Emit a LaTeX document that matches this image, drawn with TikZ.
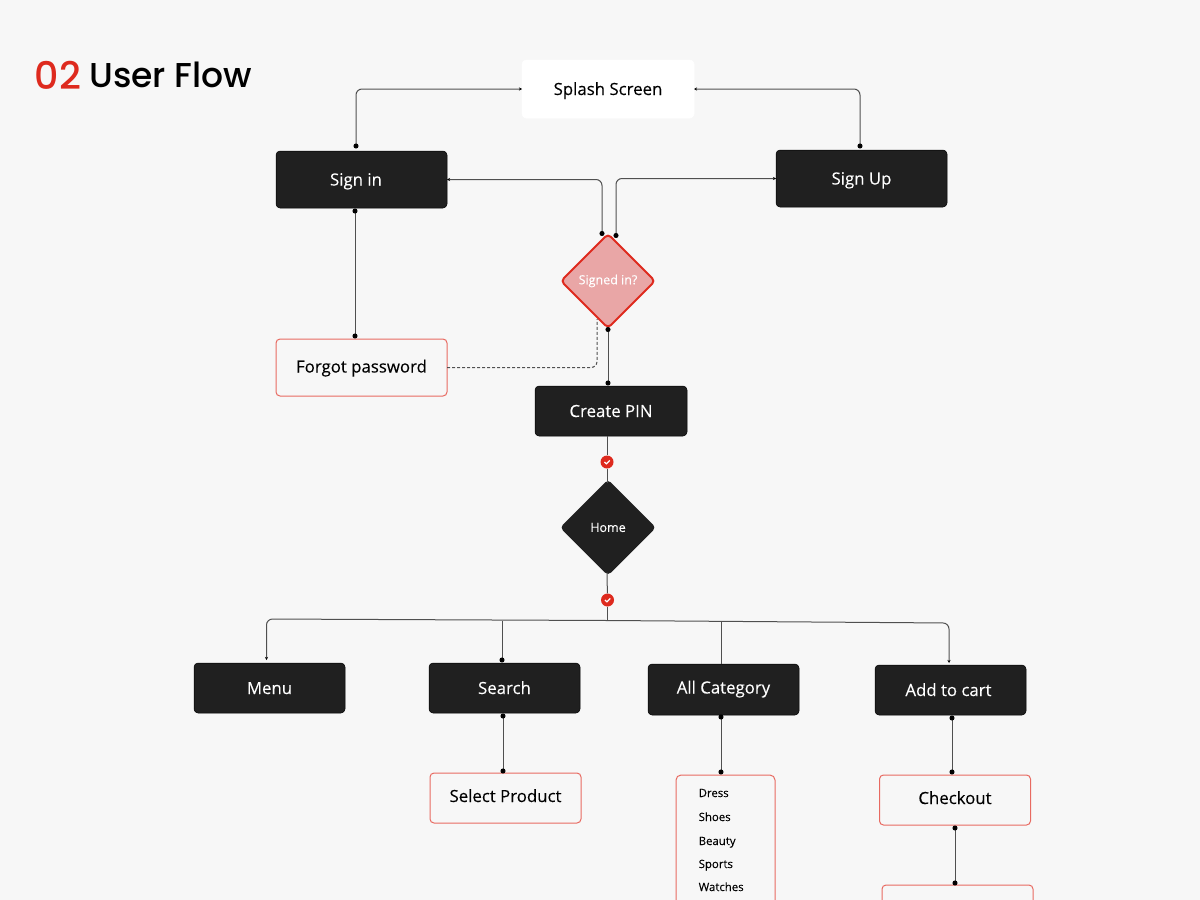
\documentclass[tikz,border=0pt]{standalone}
\usepackage{fontspec}
\setmainfont{Open Sans}[UprightFeatures={FakeBold=0.12}]
\newfontfamily\titlefont[UprightFont=* Medium]{Poppins}
\usetikzlibrary{positioning,shapes.geometric,arrows.meta,calc}
\definecolor{pagegray}{HTML}{F7F7F7}
\definecolor{boxblack}{HTML}{202020}
\definecolor{flowred}{HTML}{DE2A1E}
\definecolor{softred}{HTML}{E9A6A6}
\definecolor{linegray}{HTML}{505050}
\tikzset{
    flow/.style={draw=linegray,line width=1pt,rounded corners=6pt},
    dotted end/.style={{Circle[black,length=5pt]}-{Circle[black,length=5pt]}},
    tipdot/.style={{Stealth[black,length=3pt,width=3pt]}-{Circle[black,length=5pt]}},
    darkbox/.style={rectangle,rounded corners=4pt,fill=boxblack,draw=black,line width=0.5pt,text=white,
        minimum width=151pt,minimum height=50pt,outer sep=0pt,inner sep=0pt,text height=12.5pt,text depth=0.5pt,
        font=\fontsize{16.8}{20}\selectfont},
    redbox/.style={darkbox,fill=pagegray,draw=flowred!70,line width=1pt,text=black},
    raised/.style={text depth=4.5pt},
    decision/.style={diamond,rounded corners=4pt,minimum width=96pt,minimum height=96pt,inner sep=0pt,outer sep=0pt,
        text=white,font=\fontsize{12.5}{15}\selectfont},
    checkdot/.style={circle,fill=flowred,minimum size=13pt,inner sep=0pt,path picture={
        \draw[white,line width=1.2pt] ($(path picture bounding box.center)+(-2.6,0)$) -- ++(2,1.8) -- ++(3.4,-3.4);}},
    listitem/.style={anchor=base west,inner sep=0pt,font=\fontsize{11.4}{14}\selectfont},
}
\begin{document}
\begin{tikzpicture}[x=1pt,y=-1pt]
    \useasboundingbox (0,0) rectangle (1200,900);
    \clip (0,0) rectangle (1200,900);
    \fill[pagegray] (0,0) rectangle (1200,900);

    \node[anchor=base west,inner sep=0pt,text=flowred,font=\titlefont\fontsize{38}{40}\selectfont] (number) at (34.5,89) {02};
    \node[anchor=base west,inner sep=0pt,text=black,font=\titlefont\fontsize{34.5}{40}\selectfont] (heading) at (89,87.5) {User Flow};

    \node[darkbox,fill=white,draw=white,text=black,minimum width=172pt,minimum height=58pt] (splash) at (608,89) {Splash Screen};
    \node[darkbox,minimum width=171pt,minimum height=57pt] (signin) at (361.5,179.5) {Sign in\hspace*{11pt}};
    \node[darkbox,minimum width=171pt,minimum height=57pt] (signup) at (861.5,178.5) {Sign Up};
    \node[decision,draw=flowred,fill=softred,line width=2pt,minimum width=94pt,minimum height=94pt] (signed) at (608,281) {Signed in?};
    \node[redbox,text depth=2.5pt,minimum width=171pt,minimum height=57pt,below=131pt of signin] (forgot) {Forgot password};
    \node[darkbox,minimum width=152pt] (pin) at (611,411) {Create PIN};
    \node[decision,fill=boxblack] (home) at (608,527.5) {Home};
    \node[checkdot] (checka) at (607,462) {};
    \node[checkdot] (checkb) at (607.5,600) {};

    \node[darkbox] (menu) at (269.5,688) {Menu};
    \node[darkbox] (search) at (504.5,688) {Search};
    \node[darkbox,raised,minimum height=51pt] (category) at (723.5,689.5) {All Category};
    \node[darkbox] (cart) at (950.5,690) {Add to cart\hspace*{4pt}};
    \node[redbox,raised,below=60pt of search,xshift=1pt] (product) {Select Product};
    \node[redbox,rounded corners=5pt,minimum width=99pt,minimum height=140pt] (list) at (725.5,845) {};
    \node[redbox,raised,below=60pt of cart,xshift=4.5pt] (checkout) {Checkout};
    \node[redbox,minimum height=65pt,below=60pt of checkout,xshift=2.5pt] (next) {};

    \foreach \y/\item in {797/Dress,821/Shoes,845/Beauty,868/Sports,891/Watches}
        \node[listitem] (item\item) at (698.5,\y) {\item};

    % top of the flow
    \draw[flow,tipdot] (splash.west) -| ([xshift=-5.5pt,yshift=2.5pt]signin.north);
    \draw[flow,tipdot] (splash.east) -| ([xshift=-1.5pt,yshift=1.5pt]signup.north);
    \draw[flow,tipdot] (signin.east) -| ([xshift=-6pt,yshift=-2pt]signed.north);
    \draw[flow,tipdot] (signup.west) -| ([xshift=8pt,yshift=-4pt]signed.north);
    \draw[flow,dotted end] ([xshift=-6.5pt,yshift=-0.5pt]signin.south) -- ([xshift=-6.5pt,yshift=0.5pt]forgot.north);
    \draw[flow,densely dashed] (forgot.east) -| ([xshift=-11pt,yshift=9pt]signed.south);
    \draw[flow,dotted end] ([yshift=1pt]signed.south) -- ([xshift=-3pt,yshift=0.5pt]pin.north);

    % through home
    \draw[flow] ([xshift=-4pt]pin.south) -- (checka);
    \draw[flow] (checka) -- ([xshift=-1pt,yshift=-3pt]home.north);
    \draw[flow] ([xshift=-1pt,yshift=3pt]home.south) -- (checkb);
    \coordinate (branch) at (607.5,620.5);
    \draw[flow] (checkb) -- (branch);

    % the four branches
    \draw[flow,-{Stealth[black,length=3pt,width=3pt]}] (branch) -- (266.5,619) -- ([xshift=-3pt,yshift=3pt]menu.north);
    \draw[flow,-{Stealth[black,length=3pt,width=3pt]}] (branch) -- (949,623) -- ([xshift=-1.5pt,yshift=2pt]cart.north);
    \draw[flow,-{Circle[black,length=5pt]}] (502,621) -- ([xshift=-2.5pt,yshift=0.5pt]search.north);
    \draw[flow] (721,622) -- ([xshift=-2.5pt]category.north);

    % below the branches
    \draw[flow,dotted end] ([xshift=-1.5pt,yshift=-0.5pt]search.south) -- ([xshift=-2.5pt,yshift=-0.5pt]product.north);
    \draw[flow,dotted end] ([xshift=-2.5pt,yshift=0.5pt]category.south) -- ([xshift=-4.5pt,yshift=0.5pt]list.north);
    \draw[flow,dotted end] ([xshift=1.5pt,yshift=-0.5pt]cart.south) -- ([xshift=-3pt,yshift=0.5pt]checkout.north);
    \draw[flow,dotted end] ([yshift=-0.5pt]checkout.south) -- ([xshift=-2.5pt,yshift=-0.5pt]next.north);
\end{tikzpicture}
\end{document}
